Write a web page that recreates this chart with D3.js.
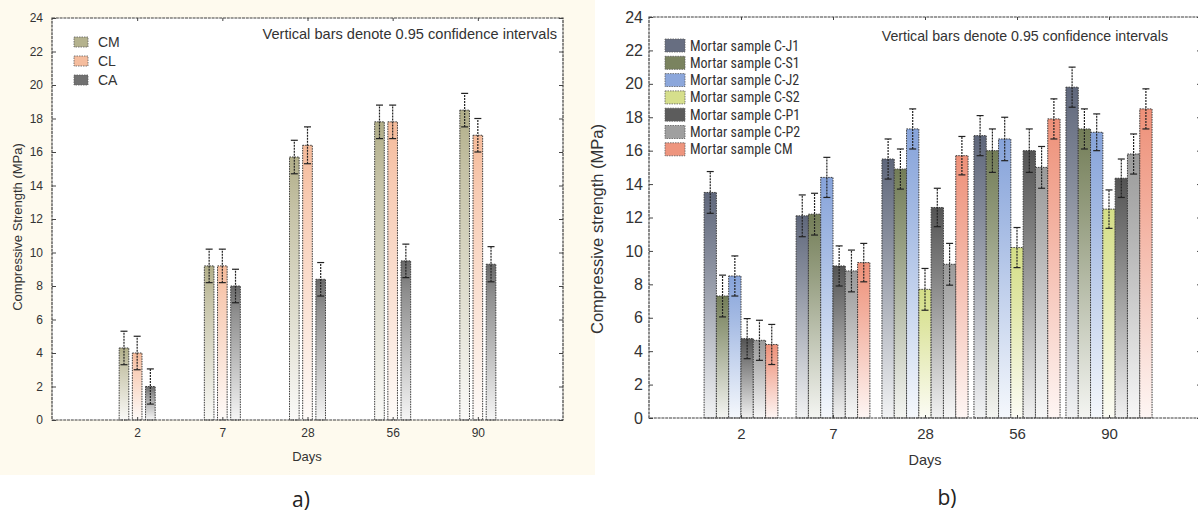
<!DOCTYPE html>
<html><head><meta charset="utf-8">
<script src="https://cdn.jsdelivr.net/npm/d3@7"></script>
<style>body{margin:0;background:#fff} svg{display:block}</style>
</head><body>
<svg id="c" width="1198" height="513"></svg>
<script>
// ---------- data: panel a ----------
const daysA = ["2", "7", "28", "56", "90"];
const seriesA = ["CM", "CL", "CA"];
const valuesA_CM = [4.3, 9.2, 15.7, 17.8, 18.5];
const valuesA_CL = [4.0, 9.2, 16.4, 17.8, 17.0];
const valuesA_CA = [2.0, 8.0, 8.4, 9.5, 9.3];
const errA_CM = [1.0, 1.0, 1.0, 1.0, 1.0];
const errA_CL = [1.0, 1.0, 1.1, 1.0, 1.0];
const errA_CA = [1.05, 1.0, 1.0, 1.0, 1.05];
const yTicksA = [0, 2, 4, 6, 8, 10, 12, 14, 16, 18, 20, 22, 24];

// ---------- data: panel b ----------
const daysB = ["2", "7", "28", "56", "90"];
const seriesB = ["Mortar sample C-J1", "Mortar sample C-S1", "Mortar sample C-J2", "Mortar sample C-S2",
                 "Mortar sample C-P1", "Mortar sample C-P2", "Mortar sample CM"];
const valuesB_CJ1 = [13.5, 12.1, 15.5, 16.9, 19.8];
const valuesB_CS1 = [7.3, 12.2, 14.9, 16.0, 17.3];
const valuesB_CJ2 = [8.5, 14.4, 17.3, 16.7, 17.1];
const valuesB_CS2 = [null, null, 7.7, 10.2, 12.5];
const valuesB_CP1 = [4.75, 9.1, 12.6, 16.0, 14.35];
const valuesB_CP2 = [4.65, 8.8, 9.2, 15.0, 15.8];
const valuesB_CM = [4.4, 9.3, 15.7, 17.9, 18.5];
const errB_CJ1 = [1.25, 1.25, 1.2, 1.2, 1.2];
const errB_CS1 = [1.25, 1.25, 1.2, 1.3, 1.2];
const errB_CJ2 = [1.2, 1.2, 1.2, 1.3, 1.1];
const errB_CS2 = [null, null, 1.25, 1.2, 1.15];
const errB_CP1 = [1.2, 1.2, 1.15, 1.3, 1.15];
const errB_CP2 = [1.2, 1.25, 1.25, 1.25, 1.2];
const errB_CM = [1.2, 1.15, 1.15, 1.2, 1.2];
const yTicksB = [0, 2, 4, 6, 8, 10, 12, 14, 16, 18, 20, 22, 24];

const colorsA = ["#b1ae88", "#f5ba99", "#6a6a6a"];
const colorsB = ["#5f677b", "#737d57", "#86a3da", "#d4de86", "#545454", "#9a9a9a", "#ee9078"];

const noteText = "Vertical bars denote 0.95 confidence intervals";

const svg = d3.select("#c");
const defs = svg.append("defs");
const FONT = "'Liberation Sans', Arial, sans-serif";

function makeGrad(id, col, mid, fade) {
  const g = defs.append("linearGradient").attr("id", id)
    .attr("x1", 0).attr("y1", 0).attr("x2", 0).attr("y2", 1);
  g.append("stop").attr("offset", 0).attr("stop-color", col);
  g.append("stop").attr("offset", mid).attr("stop-color", d3.interpolateRgb(col, "#fff")(0.25));
  g.append("stop").attr("offset", 1).attr("stop-color", d3.interpolateRgb(col, "#fff")(fade));
}

// faint scan tint behind panel a
svg.append("rect").attr("x", 0).attr("y", 0).attr("width", 595).attr("height", 475).attr("fill", "#fefaee");

function drawPanel(cfg) {
  const g = svg.append("g");
  const step = (cfg.x1 - cfg.x0) / (cfg.days.length + 1);
  const x = d3.scalePoint().domain(cfg.days).range([cfg.x0 + step, cfg.x1 - step]);
  const y = d3.scaleLinear().domain([0, 24]).range([cfg.yb, cfg.yt]);

  g.append("rect").attr("x", cfg.x0).attr("y", cfg.yt).attr("width", cfg.x1 - cfg.x0)
    .attr("height", cfg.yb - cfg.yt).attr("fill", "#fff");

  cfg.series.forEach((s, i) => makeGrad(cfg.id + "g" + i, cfg.colors[i], cfg.gradMid, cfg.gradFade));

  cfg.days.forEach((d, di) => {
    const present = cfg.series.map((s, si) => si).filter(si => cfg.values[si][di] != null);
    const half = cfg.groupHalf(present.length);
    const inner = d3.scaleBand().domain(present).range([-half, half]).paddingInner(cfg.pad);
    present.forEach(si => {
      const v = cfg.values[si][di], e = cfg.errs[si][di];
      const bx = x(d) + inner(si);
      const bw = inner.bandwidth();
      g.append("rect").attr("x", bx).attr("y", y(v)).attr("width", bw).attr("height", y(0) - y(v))
        .attr("fill", `url(#${cfg.id}g${si})`).attr("stroke", "#3a3a3a").attr("stroke-width", 1)
        .attr("stroke-dasharray", "1.5,1");
      const cx = bx + bw / 2;
      const eg = g.append("g").attr("stroke", "#222").attr("stroke-width", 1.2);
      eg.append("line").attr("x1", cx).attr("x2", cx).attr("y1", y(v - e)).attr("y2", y(v + e))
        .attr("stroke-dasharray", "2,1");
      eg.append("line").attr("x1", cx - 3.5).attr("x2", cx + 3.5).attr("y1", y(v + e)).attr("y2", y(v + e));
      eg.append("line").attr("x1", cx - 3.5).attr("x2", cx + 3.5).attr("y1", y(v - e)).attr("y2", y(v - e));
    });
  });

  const ay = g.append("g").attr("transform", `translate(${cfg.x0},0)`)
    .call(d3.axisLeft(y).tickValues(cfg.yTicks).tickSize(-4).tickPadding(cfg.tickPadY));
  ay.select(".domain").remove();
  ay.selectAll("text").attr("font-family", FONT).attr("font-size", cfg.tickFontY).attr("fill", "#333");
  ay.selectAll("line").attr("stroke", "#444");
  const ay2 = g.append("g").attr("transform", `translate(${cfg.x1},0)`)
    .call(d3.axisRight(y).tickValues(cfg.yTicks).tickSize(-4).tickFormat(""));
  ay2.select(".domain").remove();
  ay2.selectAll("line").attr("stroke", "#444");

  const ax = g.append("g").attr("transform", `translate(0,${cfg.yb})`)
    .call(d3.axisBottom(x).tickSize(-3).tickPadding(cfg.tickPadX));
  ax.select(".domain").remove();
  ax.selectAll("text").attr("font-family", FONT).attr("font-size", cfg.tickFontX).attr("fill", "#333");
  ax.selectAll("line").attr("stroke", "#444");
  const ax2 = g.append("g").attr("transform", `translate(0,${cfg.yt})`)
    .call(d3.axisTop(x).tickSize(-3).tickFormat(""));
  ax2.select(".domain").remove();
  ax2.selectAll("line").attr("stroke", "#444");

  g.append("rect").attr("x", cfg.x0).attr("y", cfg.yt).attr("width", cfg.x1 - cfg.x0)
    .attr("height", cfg.yb - cfg.yt).attr("fill", "none").attr("stroke", "#3c3c3c")
    .attr("stroke-width", 1.2).attr("stroke-dasharray", "3,0.8");

  g.append("text").attr("x", cfg.noteX).attr("y", cfg.noteY).attr("text-anchor", "end")
    .attr("font-family", FONT).attr("font-size", cfg.noteFont).attr("fill", "#333").text(noteText);

  g.append("text").attr("transform", `translate(${cfg.yTitleX},${cfg.yTitleY}) rotate(-90)`)
    .attr("text-anchor", "middle").attr("font-family", FONT).attr("font-size", cfg.yTitleFont)
    .attr("fill", "#333").text(cfg.yTitle);
  g.append("text").attr("x", cfg.xTitleX).attr("y", cfg.xTitleY).attr("text-anchor", "middle")
    .attr("font-family", FONT).attr("font-size", cfg.xTitleFont).attr("fill", "#333").text("Days");

  cfg.series.forEach((s, i) => {
    const ly = cfg.legY + i * cfg.legStep;
    g.append("rect").attr("x", cfg.legX).attr("y", ly).attr("width", cfg.legW).attr("height", cfg.legH)
      .attr("fill", cfg.colors[i]).attr("stroke", "#555").attr("stroke-width", 0.8)
      .attr("stroke-dasharray", "1.5,1").attr("opacity", 0.95);
    g.append("text").attr("x", cfg.legX + cfg.legW + cfg.legGap).attr("y", ly + cfg.legH / 2)
      .attr("dy", "0.36em").attr("font-family", cfg.legFamily).attr("font-size", cfg.legFont)
      .attr("fill", "#333").text(s);
  });

  svg.append("text").attr("x", cfg.labX).attr("y", cfg.labY).attr("text-anchor", "middle")
    .attr("font-family", "'Open Sans', 'DejaVu Sans', sans-serif").attr("font-size", 21)
    .attr("fill", "#222").text(cfg.label);
}

drawPanel({
  id: "a", days: daysA, series: seriesA, colors: colorsA,
  values: [valuesA_CM, valuesA_CL, valuesA_CA], errs: [errA_CM, errA_CL, errA_CA],
  x0: 52, x1: 563, yt: 18, yb: 420, yTicks: yTicksA,
  groupHalf: n => 18, pad: 0.27, gradMid: 0.2, gradFade: 0.94,
  tickFontY: 12, tickFontX: 12, tickPadY: 9, tickPadX: 8,
  noteX: 557, noteY: 39, noteFont: 14.6,
  yTitle: "Compressive Strength (MPa)", yTitleX: 22, yTitleY: 227, yTitleFont: 13,
  xTitleX: 307, xTitleY: 461, xTitleFont: 13,
  legX: 74, legY: 37, legStep: 19, legW: 14, legH: 10, legGap: 10, legFont: 14, legFamily: FONT,
  label: "a)", labX: 301, labY: 507
});

drawPanel({
  id: "b", days: daysB, series: seriesB, colors: colorsB,
  values: [valuesB_CJ1, valuesB_CS1, valuesB_CJ2, valuesB_CS2, valuesB_CP1, valuesB_CP2, valuesB_CM],
  errs: [errB_CJ1, errB_CS1, errB_CJ2, errB_CS2, errB_CP1, errB_CP2, errB_CM],
  x0: 649, x1: 1201, yt: 17, yb: 418, yTicks: yTicksB,
  groupHalf: n => n * 12.3 / 2, pad: 0, gradMid: 0.3, gradFade: 0.92,
  tickFontY: 16, tickFontX: 15, tickPadY: 6, tickPadX: 10,
  noteX: 1168, noteY: 41, noteFont: 14.2,
  yTitle: "Compressive strength (MPa)", yTitleX: 603, yTitleY: 229, yTitleFont: 16.5,
  xTitleX: 925, xTitleY: 465, xTitleFont: 14.5,
  legX: 665, legY: 39, legStep: 17.3, legW: 20, legH: 13, legGap: 5, legFont: 14,
  legFamily: "'Liberation Sans Narrow', 'Roboto Condensed', " + FONT,
  label: "b)", labX: 947, labY: 505
});
</script>
</body></html>
